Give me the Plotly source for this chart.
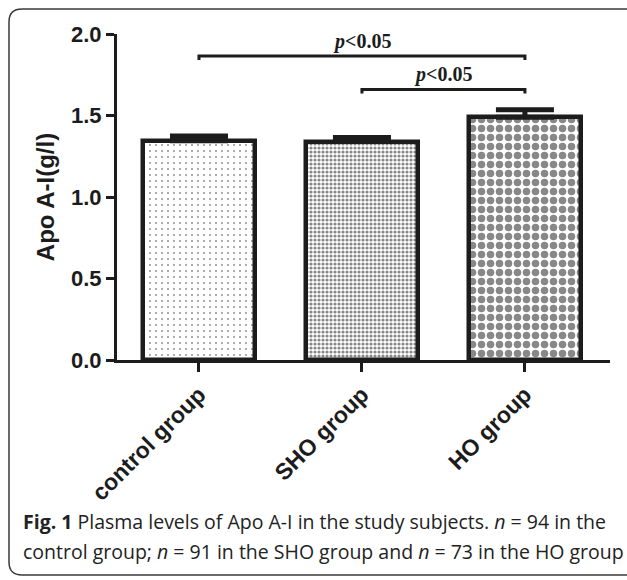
import plotly.graph_objects as go

# ---- data ----
categories = ["control group", "SHO group", "HO group"]
means = [1.345, 1.34, 1.49]
sem = [0.03, 0.025, 0.045]
sig_left = [0, 1]
sig_right = [2, 2]
sig_level = [1.865, 1.66]
sig_text = ["p<0.05", "p<0.05"]
y_ticks = [0.0, 0.5, 1.0, 1.5, 2.0]
y_ticklabels = ["0.0", "0.5", "1.0", "1.5", "2.0"]

# ---- styles ----
W, H = 627, 580
L, R, T, B = 117, 17, 34, 220
PW, PH = W - L - R, H - T - B
INK = "#1c1c1c"
patterns = [
    dict(shape=".", size=6, solidity=0.09, fgcolor="#222222", bgcolor="white", fillmode="overlay"),
    dict(shape=".", size=4, solidity=0.5, fgcolor="#111111", bgcolor="white", fillmode="overlay"),
    dict(shape=".", size=9, solidity=0.55, fgcolor="#111111", bgcolor="white", fillmode="overlay"),
]

fig = go.Figure()
for i, cat in enumerate(categories):
    fig.add_trace(go.Bar(
        x=[i], y=[means[i]], width=0.69,
        marker=dict(color="white", pattern=patterns[i], line=dict(color=INK, width=4.5)),
        error_y=dict(type="data", symmetric=False, array=[sem[i]], arrayminus=[0],
                     color=INK, thickness=5, width=29),
        showlegend=False, hoverinfo="skip",
    ))

tick_drop = 0.025
for a, b, lvl, txt in zip(sig_left, sig_right, sig_level, sig_text):
    fig.add_trace(go.Scatter(
        x=[a, a, b, b], y=[lvl - tick_drop, lvl, lvl, lvl - tick_drop],
        mode="lines", line=dict(color=INK, width=3), showlegend=False, hoverinfo="skip"))
    fig.add_annotation(
        x=(a + b) / 2, y=lvl, yshift=15, showarrow=False,
        text="<b><i>p</i>&lt;0.05</b>",
        font=dict(family="Liberation Serif", size=20, color=INK))

def px2paper(px, py):
    return (px - L) / PW, (T + PH - py) / PH

# rounded border
x0, y0, x1, y1, rr = 9, 9, 660, 575, 13
def P(px, py):
    x, y = px2paper(px, py)
    return f"{x:.5f},{y:.5f}"
path = (f"M {P(x0 + rr, y0)} L {P(x1, y0)} L {P(x1, y1)} L {P(x0 + rr, y1)} "
        f"Q {P(x0, y1)} {P(x0, y1 - rr)} L {P(x0, y0 + rr)} Q {P(x0, y0)} {P(x0 + rr, y0)}")
fig.add_shape(type="path", path=path, xref="paper", yref="paper",
              line=dict(color="#3a3a3a", width=1.5), layer="below")

cap_font = dict(family="Open Sans", size=19.5, color="#222222")
cx, cy1 = px2paper(21, 521)
_, cy2 = px2paper(21, 551)
fig.add_annotation(xref="paper", yref="paper", x=cx, y=cy1, xanchor="left", yanchor="middle",
                   showarrow=False, font=cap_font,
                   text="<b>Fig. 1</b> Plasma levels of Apo A-I in the study subjects. <i>n</i> = 94 in the")
fig.add_annotation(xref="paper", yref="paper", x=cx, y=cy2, xanchor="left", yanchor="middle",
                   showarrow=False, font=cap_font,
                   text="control group; <i>n</i> = 91 in the SHO group and <i>n</i> = 73 in the HO group")

fig.update_layout(
    width=W, height=H, margin=dict(l=L, r=R, t=T, b=B),
    paper_bgcolor="white", plot_bgcolor="white", bargap=0,
    xaxis=dict(range=[-0.503, 2.522], tickmode="array", tickvals=list(range(len(categories))),
               ticktext=[f"<b>{c}</b>" for c in categories], tickangle=-45,
               showline=True, linecolor=INK, linewidth=3, ticks="outside", ticklen=9,
               tickwidth=2.5, tickcolor=INK, showgrid=False, zeroline=False,
               tickfont=dict(family="Liberation Sans", size=23, color=INK)),
    yaxis=dict(range=[0, 2.0], tickmode="array", tickvals=y_ticks,
               ticktext=[f"<b>{t}</b>" for t in y_ticklabels],
               showline=True, linecolor=INK, linewidth=3, ticks="outside", ticklen=8,
               tickwidth=2.5, tickcolor=INK, showgrid=False, zeroline=False,
               tickfont=dict(family="Liberation Sans", size=22, color=INK),
               title=dict(text="<b>Apo A-I(g/l)</b>", standoff=10,
                          font=dict(family="Liberation Sans", size=24, color=INK))),
)

fig.write_html("out.html")
